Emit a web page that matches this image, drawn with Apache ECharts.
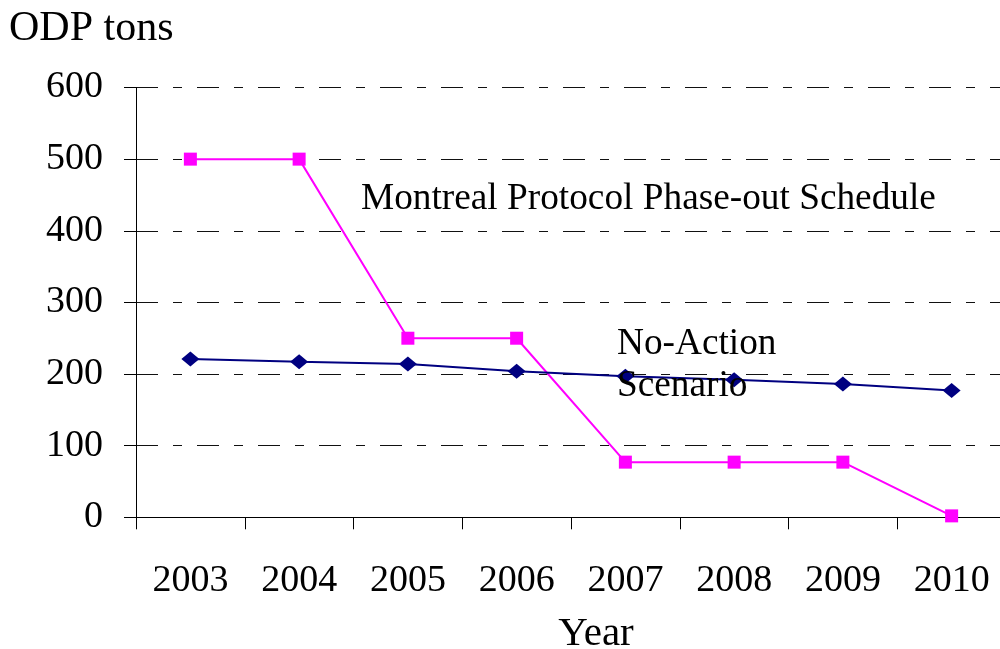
<!DOCTYPE html>
<html>
<head>
<meta charset="utf-8">
<script src="https://cdn.jsdelivr.net/npm/echarts@6/dist/echarts.min.js"></script>
<style>
html,body{margin:0;padding:0;background:#fff;}
#chart{width:1000px;height:649px;}
</style>
</head>
<body>
<div id="chart"></div>
<script>
const years = ['2003','2004','2005','2006','2007','2008','2009','2010'];
const montrealSchedule = [500, 500, 250, 250, 77, 77, 77, 2];
const noActionScenario = [221, 217, 214, 204, 197, 192, 186, 177];
const yTicks = {min: 0, max: 600, interval: 100};
const yAxisTitle = 'ODP tons';
const xAxisTitle = 'Year';
const montrealLabel = 'Montreal Protocol Phase-out Schedule';
const noActionLabel = ['No-Action', 'Scenario'];

const FONT = "'Liberation Serif', 'Times New Roman', serif";
const chart = echarts.init(document.getElementById('chart'), null, {renderer: 'canvas'});
chart.setOption({
  animation: false,
  backgroundColor: '#ffffff',
  grid: {left: 136, width: 870, top: 87.5, bottom: 131.7, containLabel: false, outerBoundsMode: 'none'},
  xAxis: {
    type: 'category',
    data: years,
    boundaryGap: true,
    axisLine: {lineStyle: {color: '#000', width: 1}},
    axisTick: {show: true, length: 12, inside: false, lineStyle: {color: '#000'}},
    axisLabel: {color: '#000', fontFamily: FONT, fontSize: 38, margin: 45, interval: 0},
    splitLine: {show: false}
  },
  yAxis: {
    type: 'value',
    min: yTicks.min, max: yTicks.max, interval: yTicks.interval,
    axisLine: {show: true, lineStyle: {color: '#000', width: 1}},
    axisTick: {show: true, length: 12, inside: false, lineStyle: {color: '#000'}},
    axisLabel: {color: '#000', fontFamily: FONT, fontSize: 38, margin: 33, padding: [8,0,0,0]},
    splitLine: {show: true, lineStyle: {color: '#111', width: 1, type: [22, 15, 9, 15]}}
  },
  series: [
    {
      name: montrealLabel,
      type: 'line',
      data: montrealSchedule,
      symbol: 'rect',
      symbolSize: 13,
      lineStyle: {color: '#FF00FF', width: 2},
      itemStyle: {color: '#FF00FF'},
      z: 3
    },
    {
      name: noActionLabel.join(' '),
      type: 'line',
      data: noActionScenario,
      symbol: 'diamond',
      symbolSize: [18, 15],
      lineStyle: {color: '#000080', width: 2},
      itemStyle: {color: '#000080'},
      z: 4
    }
  ],
  graphic: [
    {type: 'text', style: {text: yAxisTitle, x: 9, y: 29, font: '42px ' + FONT, fill: '#000', verticalAlign: 'middle', align: 'left'}},
    {type: 'text', style: {text: xAxisTitle, x: 596, y: 634, font: '41px ' + FONT, fill: '#000', verticalAlign: 'middle', align: 'center'}},
    {type: 'text', style: {text: montrealLabel, x: 361, y: 199.4, font: '37.3px ' + FONT, fill: '#000', verticalAlign: 'middle', align: 'left'}, z: 10},
    {type: 'text', style: {text: noActionLabel[0], x: 617, y: 343.7, font: '37.3px ' + FONT, fill: '#000', verticalAlign: 'middle', align: 'left'}, z: 10},
    {type: 'text', style: {text: noActionLabel[1], x: 617, y: 386.4, font: '37.3px ' + FONT, fill: '#000', verticalAlign: 'middle', align: 'left'}, z: 10}
  ]
});
</script>
</body>
</html>
